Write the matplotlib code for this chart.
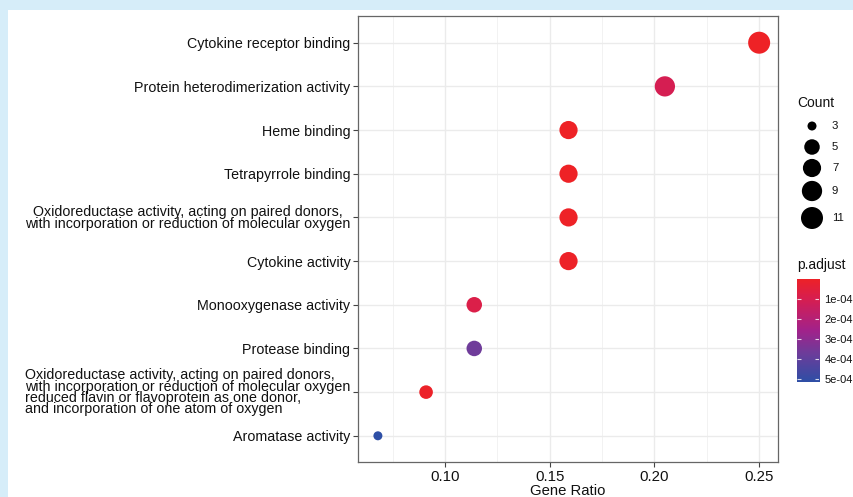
import numpy as np
import matplotlib
matplotlib.use("Agg")
import matplotlib.pyplot as plt
from matplotlib.colors import LinearSegmentedColormap, Normalize
from matplotlib.patches import Rectangle

plt.rcParams["font.family"] = ["Liberation Sans", "DejaVu Sans"]

# GO terms, top to bottom as shown in the chart
terms = [
    "Cytokine receptor binding",
    "Protein heterodimerization activity",
    "Heme binding",
    "Tetrapyrrole binding",
    "Oxidoreductase activity, acting on paired donors,\nwith incorporation or reduction of molecular oxygen",
    "Cytokine activity",
    "Monooxygenase activity",
    "Protease binding",
    "Oxidoreductase activity, acting on paired donors,\nwith incorporation or reduction of molecular oxygen\n"
    "reduced flavin or flavoprotein as one donor,\nand incorporation of one atom of oxygen",
    "Aromatase activity",
]
gene_ratio = [0.250, 0.205, 0.159, 0.159, 0.159, 0.159, 0.114, 0.114, 0.091, 0.068]
counts = [11, 9, 7, 7, 7, 7, 5, 5, 4, 3]
p_adjust = [1.5e-6, 1.1e-4, 2e-6, 2e-6, 3e-6, 5e-6, 0.85e-4, 3.7e-4, 1e-5, 5.15e-4]

count_breaks = [3, 5, 7, 9, 11]
padj_ticks = [1e-4, 2e-4, 3e-4, 4e-4, 5e-4]
padj_labels = ["1e-04", "2e-04", "3e-04", "4e-04", "5e-04"]
x_ticks = [0.10, 0.15, 0.20, 0.25]

W, H, DPI = 854, 497, 100

cmap = LinearSegmentedColormap.from_list(
    "padj", [(0.0, "#EE2226"), (0.2, "#D71E50"), (0.5, "#A3228A"),
             (0.72, "#6E3C9A"), (1.0, "#2E4FA6")])
norm = Normalize(vmin=0.0, vmax=5.15e-4)


def dot_size(c):
    # area-style size scale: diameter in px, converted to points^2
    c = np.asarray(c, dtype=float)
    d_px = 9 + 13 * np.sqrt((c - 3) / 8.0)
    return (d_px * 72.0 / DPI) ** 2


fig = plt.figure(figsize=(W / DPI, H / DPI), dpi=DPI, facecolor="#D6EDF9")
fig.patches.append(Rectangle((8 / W, 0), 1, 1 - 10 / H, transform=fig.transFigure,
                             facecolor="white", edgecolor="none", zorder=-10))

ax = fig.add_axes([358 / W, 1 - 462 / H, 420 / W, (462 - 16.5) / H])
ypos = np.arange(len(terms))[::-1] + 1
ax.scatter(gene_ratio, ypos, s=dot_size(counts), c=p_adjust, cmap=cmap, norm=norm,
           edgecolors="none", zorder=3)

ax.set_xlim(0.0585, 0.259)
ax.set_ylim(0.4, len(terms) + 0.6)
ax.set_xticks(x_ticks)
ax.set_xticklabels([f"{t:.2f}" for t in x_ticks], fontsize=10.8)
ax.set_xticks([0.075, 0.125, 0.175, 0.225], minor=True)
ax.set_yticks(ypos)
ax.set_yticklabels(terms, fontsize=10.3)
for lab in ax.get_yticklabels():
    lab.set_multialignment("center")
    lab.set_linespacing(0.86)
ax.get_yticklabels()[8].set_multialignment("left")
ax.get_yticklabels()[8].set_linespacing(0.76)

ax.grid(which="major", color="#EBEBEB", lw=1.0, zorder=0)
ax.grid(which="minor", axis="x", color="#F2F2F2", lw=0.7, zorder=0)
ax.tick_params(axis="both", which="major", length=3.5, width=0.8, color="#444444",
               labelcolor="#111111", pad=2)
ax.tick_params(axis="x", which="minor", length=0)
for sp in ax.spines.values():
    sp.set_color("#666666")
    sp.set_linewidth(0.9)
ax.set_xlabel("Gene Ratio", fontsize=10.7, labelpad=0.5, color="#111111")

# Count legend
lg = fig.add_axes([0, 0, 1, 1], facecolor="none")
lg.set_xlim(0, W)
lg.set_ylim(H, 0)
lg.axis("off")
lg.text(797, 103, "Count", fontsize=10, va="center", ha="left", color="#111111")
leg_y = [126, 147, 168, 191, 218]
lg.scatter([812] * len(count_breaks), leg_y, s=dot_size(count_breaks), color="black",
           edgecolors="none")
for y, c in zip(leg_y, count_breaks):
    lg.text(832, y, str(c), fontsize=8.2, va="center", ha="left", color="#111111")
lg.text(797, 265, "p.adjust", fontsize=10, va="center", ha="left", color="#111111")

# p.adjust colourbar
cax = fig.add_axes([797 / W, 1 - 382 / H, 22 / W, 103 / H])
grad = np.linspace(norm.vmin, norm.vmax, 256).reshape(-1, 1)
cax.imshow(grad, aspect="auto", cmap=cmap, norm=norm, origin="upper",
           extent=[0, 1, norm.vmax, norm.vmin])
cax.set_xlim(0, 1)
cax.set_ylim(norm.vmax, norm.vmin)
cax.hlines(padj_ticks, 0, 0.2, color="white", lw=0.8, alpha=0.8)
cax.hlines(padj_ticks, 0.8, 1, color="white", lw=0.8, alpha=0.8)
cax.set_xticks([])
cax.yaxis.tick_right()
cax.set_yticks(padj_ticks)
cax.set_yticklabels(padj_labels)
cax.tick_params(axis="y", length=0, labelsize=8, pad=4, labelcolor="#111111")
for sp in cax.spines.values():
    sp.set_visible(False)

fig.savefig("out.png", dpi=DPI, facecolor=fig.get_facecolor())
